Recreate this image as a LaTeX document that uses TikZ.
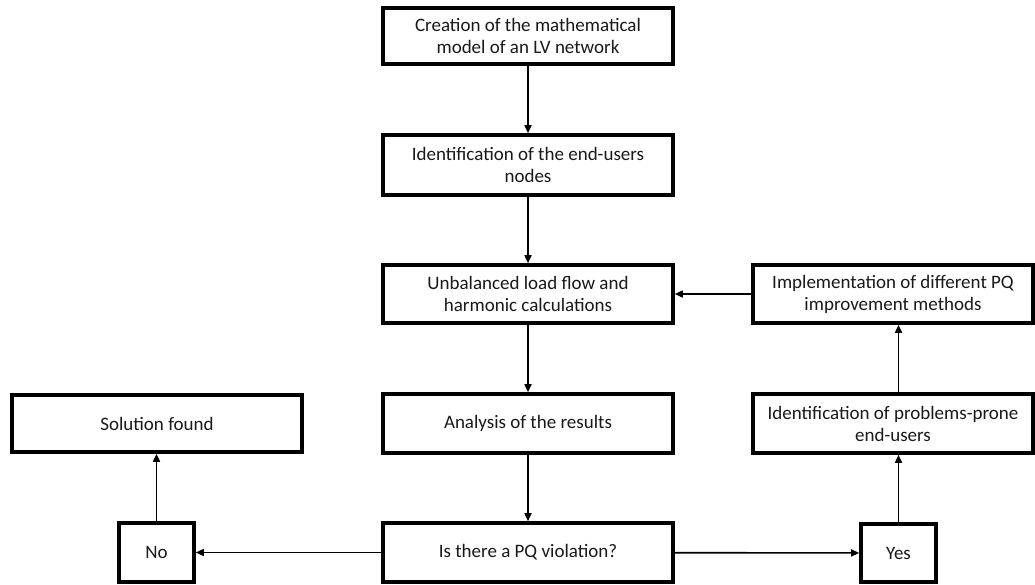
\documentclass[tikz,border=0pt]{standalone}
\usepackage{fontspec}
\setmainfont{Carlito}
\usetikzlibrary{arrows.meta}
\begin{document}
\begin{tikzpicture}[x=1pt,y=-1pt,
  box/.style={draw=black,line width=3.6pt,fill=white,align=center,inner sep=2pt,
    font=\fontsize{19}{22}\selectfont,text=black!90},
  conn/.style={line width=1.6pt,-{Triangle[length=8pt,width=7pt]}}]
\useasboundingbox (0,0) rectangle (1035,585);
\node[box,minimum width=290pt,minimum height=56pt] (b1) at (528,36) {Creation of the mathematical\\model of an LV network};
\node[box,minimum width=290pt,minimum height=60pt] (b2) at (528,165) {Identification of the end-users\\nodes};
\node[box,minimum width=290pt,minimum height=58pt] (b3) at (528,294) {Unbalanced load flow and\\harmonic calculations};
\node[box,minimum width=290pt,minimum height=59pt] (b4) at (528,423.5) {Analysis of the results};
\node[box,minimum width=290pt,minimum height=59pt] (b5) at (528,552.5) {Is there a PQ violation?};
\node[box,minimum width=290pt,minimum height=57pt] (sol) at (157,423.5) {Solution found};
\node[box,minimum width=75pt,minimum height=59pt] (no) at (156.5,552.5) {No};
\node[box,minimum width=75pt,minimum height=58pt] (yes) at (898.5,553) {Yes};
\node[box,minimum width=280pt,minimum height=58pt] (impl) at (893,294) {Implementation of different PQ\\improvement methods};
\node[box,minimum width=280pt,minimum height=59pt] (prob) at (893,423.5) {Identification of problems-prone\\end-users};
\draw[conn] (b1) -- (b2);
\draw[conn] (b2) -- (b3);
\draw[conn] (b3) -- (b4);
\draw[conn] (b4) -- (b5);
\draw[conn] (b5) -- (no);
\draw[conn] (b5) -- (yes);
\draw[conn] (no) -- (no |- sol.south);
\draw[conn] (yes) -- (yes |- prob.south);
\draw[conn] (yes |- prob.north) -- (yes |- impl.south);
\draw[conn] (impl.west |- b3) -- (b3);
\end{tikzpicture}
\end{document}
